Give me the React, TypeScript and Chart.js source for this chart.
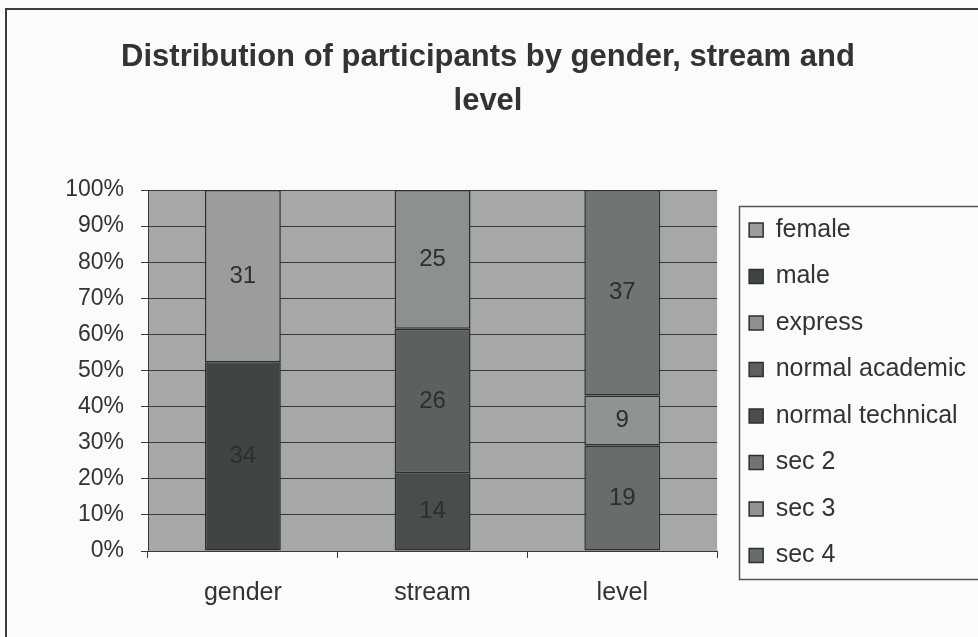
import React, { useEffect, useRef } from "react";
import { Chart, registerables } from "chart.js";

Chart.register(...registerables);

const TITLE_LINES = ["Distribution of participants by gender, stream and", "level"];
const CATEGORIES = ["gender", "stream", "level"];
const Y_TICKS = [0, 10, 20, 30, 40, 50, 60, 70, 80, 90, 100];

// stacking order: bottom to top
const SERIES_NAMES = ["male", "female", "normal technical", "normal academic", "express", "sec 4", "sec 3", "sec 2"];
const SERIES_VALUES: (number | null)[][] = [
  [34, null, null],
  [31, null, null],
  [null, 14, null],
  [null, 26, null],
  [null, 25, null],
  [null, null, 19],
  [null, null, 9],
  [null, null, 37],
];
const SERIES_COLORS = ["#404544", "#9a9d9c", "#484e4c", "#5c615f", "#8c908f", "#686c6b", "#8f9392", "#707473"];
const LEGEND_ORDER = ["female", "male", "express", "normal academic", "normal technical", "sec 2", "sec 3", "sec 4"];

const FONT = "'Liberation Sans', Arial, sans-serif";

export default function App() {
  const ref = useRef<HTMLCanvasElement | null>(null);

  useEffect(() => {
    document.body.style.margin = "0";
    const canvas = ref.current!;
    const totals = CATEGORIES.map((_, ci) =>
      SERIES_VALUES.reduce((s, row) => s + (row[ci] ?? 0), 0)
    );

    const datasets = SERIES_NAMES.map((name, i) => ({
      label: name,
      data: SERIES_VALUES[i].map((v, ci) => (v == null ? null : (v / totals[ci]) * 100)),
      raw: SERIES_VALUES[i],
      backgroundColor: SERIES_COLORS[i],
      borderColor: "#2c2f2e",
      borderWidth: 1.5,
      borderSkipped: false,
      categoryPercentage: 1,
      barPercentage: 0.4,
    }));

    const bgPlugin = {
      id: "bgPlugin",
      beforeDraw(chart: any) {
        const { ctx, chartArea } = chart;
        ctx.save();
        ctx.fillStyle = "#fbfbfb";
        ctx.fillRect(0, 0, chart.width, chart.height);
        ctx.strokeStyle = "#3a3a3a";
        ctx.lineWidth = 2;
        ctx.strokeRect(6, 9, chart.width + 20, chart.height + 20);
        ctx.fillStyle = "#a5a8a7";
        ctx.fillRect(chartArea.left, chartArea.top, chartArea.right - chartArea.left, chartArea.bottom - chartArea.top);
        ctx.restore();
      },
      afterDraw(chart: any) {
        const lg = chart.legend;
        if (!lg || !lg.legendHitBoxes || !lg.legendHitBoxes.length) return;
        const hb = lg.legendHitBoxes;
        const first = hb[0];
        const last = hb[hb.length - 1];
        const ctx = chart.ctx;
        ctx.save();
        ctx.strokeStyle = "#555";
        ctx.lineWidth = 1.5;
        const left = Math.round(first.left - 10) + 0.5;
        const top = Math.round(first.top - 11.5) + 0.5;
        const bottom = Math.round(last.top + last.height + 10.5) + 0.5;
        ctx.strokeRect(left, top, chart.width + 20 - left, bottom - top);
        ctx.restore();
      },
    };

    const labelPlugin = {
      id: "labelPlugin",
      afterDatasetsDraw(chart: any) {
        const ctx = chart.ctx;
        ctx.save();
        ctx.font = `24px ${FONT}`;
        ctx.fillStyle = "#2b2f2e";
        ctx.textAlign = "center";
        ctx.textBaseline = "middle";
        chart.data.datasets.forEach((ds: any, di: number) => {
          const meta = chart.getDatasetMeta(di);
          meta.data.forEach((el: any, idx: number) => {
            const raw = ds.raw[idx];
            if (raw == null) return;
            const p = el.getProps(["x", "y", "base"], true);
            ctx.fillText(String(raw), p.x, (p.y + p.base) / 2);
          });
        });
        ctx.restore();
      },
    };

    const chart = new Chart(canvas, {
      type: "bar",
      data: { labels: CATEGORIES, datasets: datasets as any },
      plugins: [bgPlugin, labelPlugin],
      options: {
        responsive: false,
        animation: false,
        devicePixelRatio: 1,
        layout: { padding: { left: 0, right: 2, top: 0, bottom: 9 } },
        plugins: {
          tooltip: { enabled: false },
          title: {
            display: true,
            text: TITLE_LINES,
            color: "#333",
            font: { family: FONT, size: 31, weight: "bold", lineHeight: 44 / 31 },
            padding: { top: 35, bottom: 67 },
          },
          legend: {
            display: true,
            position: "right",
            align: "start",
            fullSize: true,
            maxWidth: 400,
            title: { display: true, text: "", font: { size: 10, lineHeight: 1 }, padding: { top: 186, bottom: 0 } },
            labels: {
              boxWidth: 14,
              boxHeight: 14,
              padding: 21.5,
              color: "#333",
              font: { family: FONT, size: 25 },
              sort: (a: any, b: any) => LEGEND_ORDER.indexOf(a.text) - LEGEND_ORDER.indexOf(b.text),
            },
          },
        },
        scales: {
          x: {
            stacked: true,
            grid: { display: true, drawOnChartArea: false, drawTicks: true, tickLength: 7, color: "#3a3a3a", offset: true },
            border: { display: true, color: "#3a3a3a", width: 1 },
            ticks: { color: "#333", font: { family: FONT, size: 25 }, padding: 20 },
          },
          y: {
            stacked: true,
            min: 0,
            max: 100,
            afterBuildTicks: (s: any) => { s.ticks = Y_TICKS.map((v) => ({ value: v })); },
            afterFit: (s: any) => { s.width = 148; },
            grid: { color: "#3a3a3a", lineWidth: 1, drawTicks: true, tickLength: 7 },
            border: { display: true, color: "#3a3a3a", width: 1 },
            ticks: { color: "#333", font: { family: FONT, size: 23 }, padding: 17, callback: (v: any) => v + "%" },
          },
          y2: {
            type: "linear",
            position: "right",
            display: true,
            grid: { display: false },
            border: { display: false },
            ticks: { display: false },
            afterFit: (s: any) => { s.width = 10.5; },
          },
        },
      } as any,
    });
    return () => chart.destroy();
  }, []);

  return (
    <div style={{ width: 978, height: 637, position: "relative" }}>
      <canvas ref={ref} width={978} height={637} style={{ display: "block" }} />
    </div>
  );
}
